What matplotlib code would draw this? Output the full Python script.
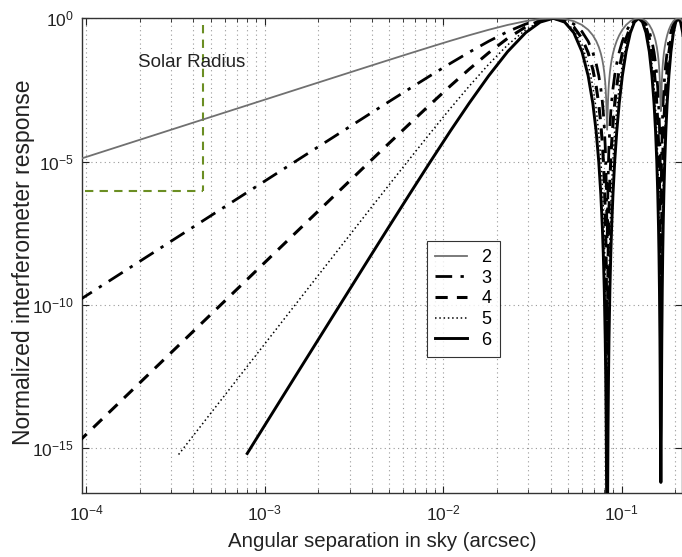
import numpy as np
import matplotlib
matplotlib.use("Agg")
import matplotlib.pyplot as plt
from matplotlib.ticker import LogLocator, NullFormatter

plt.rcParams['font.family'] = ['Liberation Sans', 'DejaVu Sans']
plt.rcParams['mathtext.fontset'] = 'custom'
plt.rcParams['mathtext.rm'] = 'Liberation Sans'
plt.rcParams['mathtext.it'] = 'Liberation Sans'

# number of telescopes per curve
n_labels = ['2', '3', '4', '5', '6']

# power-law start of each curve: separation (arcsec), log10 response
start_sep = [9.0e-5, 9.0e-5, 9.0e-5, 3.3e-4, 8.0e-4]
start_log = [-4.935, -9.871, -14.806, -15.227, -15.19]

# one lobe of the response, as distance from a null (arcsec) -> log10 response
lobe_d = [0.001, 0.0015, 0.002, 0.003, 0.004, 0.005, 0.0065, 0.0085,
          0.011, 0.014, 0.018, 0.023, 0.029, 0.035, 0.0415]
lobe_log = {
    '2': [-2.844, -2.492, -2.243, -1.892, -1.643, -1.451, -1.227, -1.000,
          -0.786, -0.593, -0.402, -0.233, -0.101, -0.027, 0.0],
    '3': [-5.688, -4.984, -4.486, -3.784, -3.286, -2.902, -2.454, -2.000,
          -1.572, -1.186, -0.804, -0.466, -0.202, -0.054, 0.0],
    '4': [-8.532, -7.476, -6.729, -5.676, -4.929, -4.353, -3.681, -3.000,
          -2.358, -1.779, -1.206, -0.699, -0.303, -0.081, 0.0],
    '5': [-11.376, -9.968, -8.972, -7.568, -6.572, -5.804, -4.908, -4.000,
          -3.144, -2.372, -1.608, -0.932, -0.404, -0.108, 0.0],
    '6': [-14.22, -12.46, -11.215, -9.46, -8.215, -7.255, -6.135, -5.000,
          -3.93, -2.965, -2.01, -1.165, -0.505, -0.135, 0.0],
}

# nulls of the response and the deepest sampled value there (log10)
null_sep = [0.083, 0.166]
null_log = {
    '2': [-3.89, -3.24],
    '3': [-7.78, -6.48],
    '4': [-11.67, -9.72],
    '5': [-15.56, -12.96],
    '6': [-19.45, -16.2],
}

# solar radius marker
solar_sep = 4.54e-4
solar_resp = 10 ** -6.02


def build_curve(i, key):
    d = np.array(lobe_d)
    v = np.array(lobe_log[key])
    xs = [start_sep[i]]
    ys = [start_log[i]]
    # rising part up to first peak
    xs += list(d)
    ys += list(v)
    for j, x0 in enumerate(null_sep):
        xs += list(x0 - d[::-1][1:])
        ys += list(v[::-1][1:])
        xs.append(x0)
        ys.append(null_log[key][j])
        xs += list(x0 + d)
        ys += list(v)
    # last lobe falling past the right edge
    x_end = null_sep[-1] + (null_sep[1] - null_sep[0])
    xs += list(x_end - d[::-1][1:6])
    ys += list(v[::-1][1:6])
    return np.array(xs), 10 ** np.array(ys)


styles = {
    '2': dict(color='#707070', lw=1.3, ls='-', zorder=6),
    '3': dict(color='black', lw=2.0, ls=(0, (6, 3, 1.2, 3)), zorder=4),
    '4': dict(color='black', lw=2.2, ls=(0, (4, 3)), zorder=4),
    '5': dict(color='black', lw=1.1, ls=(0, (1, 1.8)), zorder=4),
    '6': dict(color='black', lw=2.1, ls='-', zorder=3),
}

fig = plt.figure(figsize=(6.82, 5.57), dpi=100)
ax = fig.add_axes([0.1198, 0.1154, 0.8802, 0.8518])

for i, key in enumerate(n_labels):
    x, y = build_curve(i, key)
    ax.plot(x, y, label=key, **styles[key])

# solar radius box
ax.plot([solar_sep, solar_sep], [0.57, solar_resp], color='#6b8e23', lw=1.5,
        ls=(0, (4, 3)), zorder=2)
ax.plot([9.9e-5, solar_sep], [solar_resp, solar_resp], color='#6b8e23', lw=1.5,
        ls=(0, (4, 3)), zorder=2)
ax.text(1.95e-4, 10 ** -1.53, 'Solar Radius', fontsize=13.5, ha='left', va='center',
        color='#222222')

ax.set_xscale('log')
ax.set_yscale('log')
ax.set_xlim(9.46e-5, 0.218)
ax.set_ylim(10 ** -16.56, 1.0)

ax.xaxis.set_major_locator(LogLocator(base=10, numticks=10))
ax.xaxis.set_minor_locator(LogLocator(base=10, subs=np.arange(2, 10), numticks=20))
ax.xaxis.set_minor_formatter(NullFormatter())
ax.set_yticks([1e-15, 1e-10, 1e-5, 1e0])
ax.yaxis.set_minor_locator(plt.NullLocator())

ax.grid(True, which='major', axis='both', color='#999999', ls=(0, (1, 3)), lw=0.8)
ax.grid(True, which='minor', axis='x', color='#999999', ls=(0, (1, 3)), lw=0.8)

ax.tick_params(which='both', direction='in', top=True, right=True, labelsize=12.5,
               colors='#222222')
ax.tick_params(axis='x', which='major', pad=8)
ax.tick_params(axis='y', which='major', pad=6)
ax.tick_params(which='major', length=5)
ax.tick_params(which='minor', length=3)

ax.set_xlabel('Angular separation in sky (arcsec)', fontsize=14.7, color='#222222')
ax.set_ylabel('Normalized interferometer response', fontsize=16.5, color='#222222')
ax.xaxis.set_label_coords(0.5, -0.083)
ax.yaxis.set_label_coords(-0.078, 0.486)

leg = ax.legend(loc='upper left', bbox_to_anchor=(0.5755, 0.5306), fontsize=13,
                handlelength=1.75, frameon=True, fancybox=False, edgecolor='black',
                borderpad=0.45, labelspacing=0.2, handletextpad=0.8, borderaxespad=0)
leg.get_frame().set_linewidth(0.8)

for s in ax.spines.values():
    s.set_linewidth(1.0)
    s.set_color('#333333')

fig.savefig('out.png', dpi=100)
